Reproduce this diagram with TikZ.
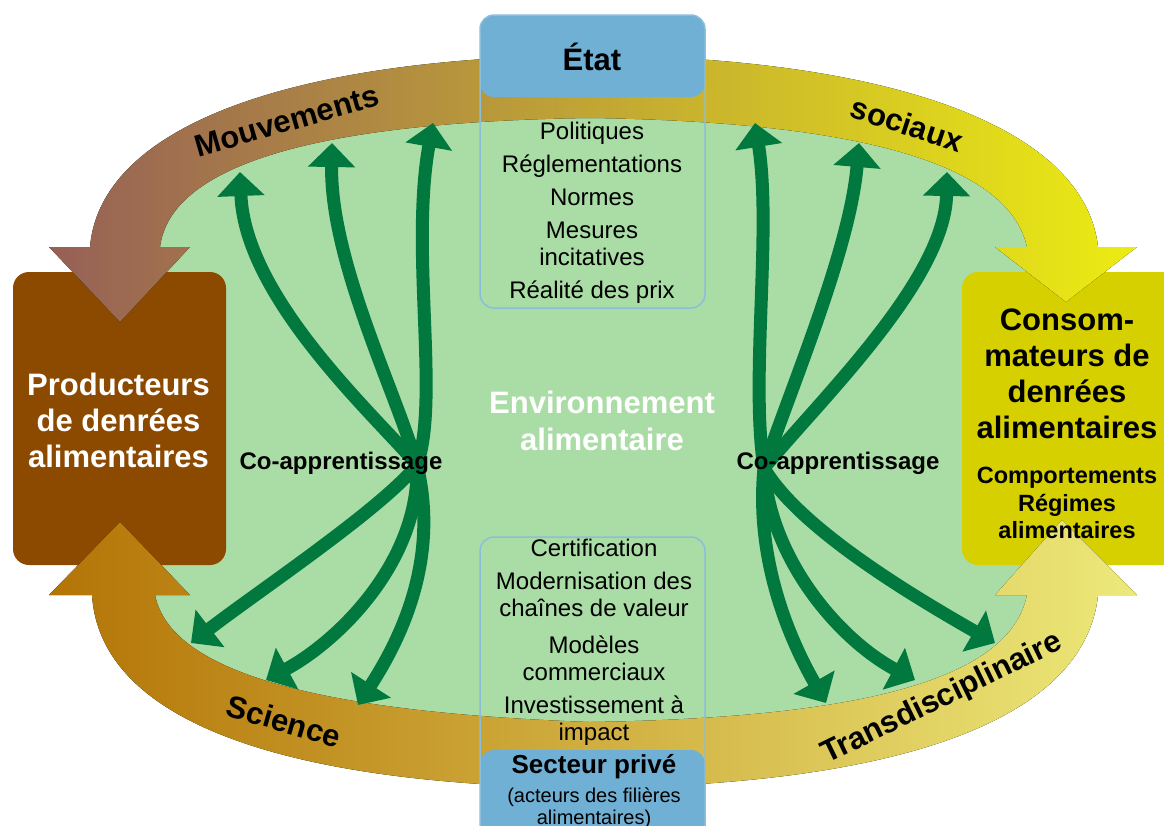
\documentclass[tikz,border=0pt]{standalone}
\usepackage{fontspec}
\setmainfont{Liberation Sans}
\usetikzlibrary{arrows.meta}

\definecolor{envgreen}{RGB}{170,220,166}
\definecolor{arrowgreen}{RGB}{0,120,62}
\definecolor{prodbrown}{RGB}{139,74,0}
\definecolor{consyellow}{RGB}{214,208,0}
\definecolor{actorblue}{RGB}{112,176,212}
\definecolor{actorline}{RGB}{140,190,220}

\tikzset{
  coarrow/.style={line width=13pt,draw=arrowgreen,-{Triangle[length=24pt,width=46pt]}},
  bigbox/.style={rounded corners=16pt,inner sep=0pt},
  bigtext/.style={font=\fontsize{31}{36}\selectfont\bfseries,align=center},
  listtext/.style={font=\fontsize{24}{27}\selectfont,align=center},
  bandlabel/.style={font=\fontsize{31}{34}\selectfont\bfseries},
  colabel/.style={font=\fontsize{24}{27}\selectfont\bfseries},
  actorframe/.style={draw=actorline,line width=1.5pt,rounded corners=14pt,inner sep=0pt},
  actorhead/.style={fill=actorblue,rounded corners=14pt,inner sep=0pt}
}

\begin{document}
\begin{tikzpicture}[x=1pt,y=-1pt]
\fill[white] (0,0) rectangle (1164,825);
\useasboundingbox (0,0) rectangle (1164,825);

% food environment
\fill[envgreen] (90,247) .. controls (100,130) and (280,58) .. (590,55) .. controls (900,58) and (1085,130) .. (1098,247)
  -- (1098,595) .. controls (1085,720) and (900,785) .. (590,788) .. controls (280,785) and (100,720) .. (92,595) -- cycle;

% producers and consumers
\node[bigbox,fill=prodbrown,minimum width=213pt,minimum height=293pt] (prod) at (119.5,418.5) {};
\node[bigbox,fill=consyellow,minimum width=220pt,minimum height=293pt] (cons) at (1072,418.5) {};

% social movements (top) and science (bottom)
\fill[left color={rgb,255:red,150;green,96;blue,86},middle color={rgb,255:red,205;green,165;blue,45},right color={rgb,255:red,236;green,236;blue,18}]
  (120,322) -- (190,247) -- (160,247) .. controls (170,170) and (300,122) .. (590,118)
  .. controls (880,122) and (1010,170) .. (1027,247) -- (995,247) -- (1066,302) -- (1137,247) -- (1098,247)
  .. controls (1085,130) and (900,58) .. (590,55) .. controls (280,58) and (100,130) .. (90,247) -- (49,247) -- cycle;
\fill[left color={rgb,255:red,180;green,116;blue,6},middle color={rgb,255:red,214;green,176;blue,62},right color={rgb,255:red,236;green,233;blue,122}]
  (120,522) -- (190,595) -- (155,595) .. controls (170,670) and (310,712) .. (590,722)
  .. controls (860,718) and (1010,680) .. (1027,595) -- (995,595) -- (1062,520) -- (1137,595) -- (1098,595)
  .. controls (1085,720) and (900,785) .. (590,788) .. controls (280,785) and (100,720) .. (92,595) -- (49,595) -- cycle;

% state and private sector
\node[actorhead,minimum width=225pt,minimum height=82pt] (etat) at (592.5,56) {};
\node[actorframe,minimum width=225pt,minimum height=293pt] (etatframe) at (592.5,161.5) {};
\node[actorhead,minimum width=225pt,minimum height=110pt] (prive) at (592.5,805) {};
\node[actorframe,minimum width=225pt,minimum height=313pt] (priveframe) at (592.5,693.5) {};

% co-learning arrows, left
\coordinate (hubL) at (417,465);
\coordinate (lu1) at (240,172);
\coordinate (lu2) at (332,143);
\coordinate (lu3) at (433,123);
\coordinate (ld1) at (191,643);
\coordinate (ld2) at (266,680);
\coordinate (ld3) at (358,705);
\draw[coarrow] (hubL) .. controls (380,420) and (245,300) .. (lu1);
\draw[coarrow] (hubL) .. controls (395,390) and (330,260) .. (lu2);
\draw[coarrow] (hubL) .. controls (440,400) and (410,250) .. (lu3);
\draw[coarrow] (hubL) .. controls (380,510) and (260,590) .. (ld1);
\draw[coarrow] (hubL) .. controls (420,560) and (340,640) .. (ld2);
\draw[coarrow] (hubL) .. controls (440,560) and (400,640) .. (ld3);

% co-learning arrows, right
\coordinate (hubR) at (764,468);
\coordinate (ru1) at (755,123);
\coordinate (ru2) at (859,143);
\coordinate (ru3) at (947,172);
\coordinate (rd1) at (826,703);
\coordinate (rd2) at (915,680);
\coordinate (rd3) at (995,643);
\draw[coarrow] (hubR) .. controls (750,380) and (772,230) .. (ru1);
\draw[coarrow] (hubR) .. controls (790,390) and (850,250) .. (ru2);
\draw[coarrow] (hubR) .. controls (820,400) and (945,280) .. (ru3);
\draw[coarrow] (hubR) .. controls (755,560) and (790,640) .. (rd1);
\draw[coarrow] (hubR) .. controls (770,560) and (840,640) .. (rd2);
\draw[coarrow] (hubR) .. controls (800,530) and (920,600) .. (rd3);

% texts
\node[bigtext,text=white] (prodtext) at (118.5,420) {Producteurs\\de denrées\\alimentaires};
\node[bigtext] (constext) at (1067,374) {Consom-\\mateurs de\\denrées\\alimentaires};
\node[font=\fontsize{23.5}{27.5}\selectfont\bfseries,align=center] (consdiet) at (1067,503) {Comportements\\Régimes\\alimentaires};
\node[bigtext,text=white,font=\fontsize{31}{37}\selectfont\bfseries] (envtext) at (602,421) {Environnement\\alimentaire};
\node[font=\fontsize{31}{36}\selectfont\bfseries] (etattext) at (592,57) {État};
\node[listtext] (etatlist) at (592,213) {Politiques\\[6pt]Réglementations\\[6pt]Normes\\[6pt]Mesures\\incitatives\\[6pt]Réalité des prix};
\node[listtext] (privelist) at (594,642) {Certification\\[6pt]Modernisation des\\chaînes de valeur\\[10pt]Modèles\\commerciaux\\[6pt]Investissement à\\impact};
\node[font=\fontsize{26}{28}\selectfont\bfseries] (privetext) at (594,767) {Secteur privé};
\node[font=\fontsize{20}{22}\selectfont,align=center] (privesub) at (594,808) {(acteurs des filières\\alimentaires)};
\node[colabel] (coL) at (341,463) {Co-apprentissage};
\node[colabel] (coR) at (838,463) {Co-apprentissage};
\node[bandlabel,rotate=16] (mouv) at (287,121) {Mouvements};
\node[bandlabel,rotate=-18] (sociaux) at (907,124) {sociaux};
\node[bandlabel,rotate=-16] (science) at (284,721) {Science};
\node[bandlabel,rotate=26] (trans) at (942,699) {Transdisciplinaire};
\end{tikzpicture}
\end{document}
